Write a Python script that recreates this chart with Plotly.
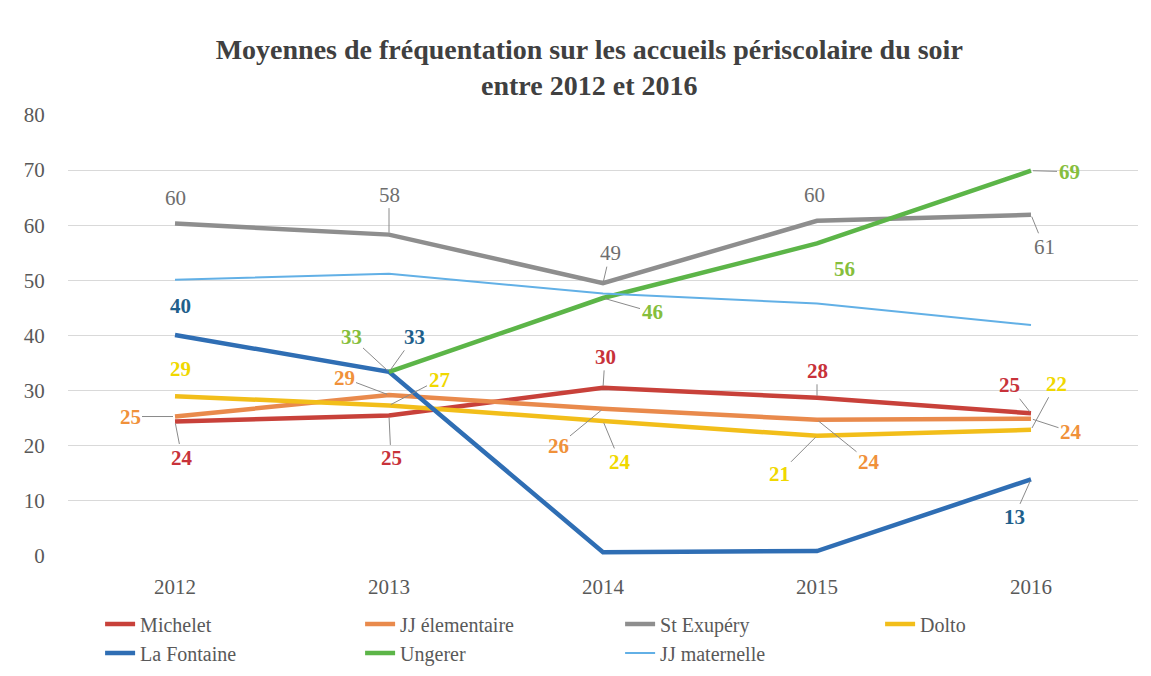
import plotly.graph_objects as go

years = ["2012", "2013", "2014", "2015", "2016"]

michelet = [24.4, 25.5, 30.5, 28.7, 25.9]
jj_elem = [25.3, 29.2, 26.7, 24.7, 24.9]
st_exupery = [60.3, 58.3, 49.5, 60.8, 61.9]
dolto = [29.0, 27.3, 24.5, 21.8, 22.9]
la_fontaine = [40.1, 33.4, 0.7, 0.9, 13.9]
ungerer = [None, 33.4, 46.8, 56.7, 69.9]
jj_mat = [50.1, 51.2, 47.6, 45.8, 41.9]

michelet_lbl = ["24", "25", "30", "28", "25"]
jj_elem_lbl = ["25", "29", "26", "24", "24"]
st_exupery_lbl = ["60", "58", "49", "60", "61"]
dolto_lbl = ["29", "27", "24", "21", "22"]
la_fontaine_lbl = ["40", "33", None, None, "13"]
ungerer_lbl = [None, "33", "46", "56", "69"]

# label offsets (pixels) and leader-line flags
michelet_off = [(7, 36, 1), (2, 43, 1), (2, -31, 1), (0, -27, 1), (-22, -28, 1)]
jj_elem_off = [(-45, 0, 1), (-45, -17, 1), (-45, 37, 1), (52, 42, 1), (40, 13, 1)]
st_exupery_off = [(0, -26, 0), (0, -40, 1), (7, -30, 1), (-3, -26, 0), (13, 32, 1)]
dolto_off = [(5, -27, 0), (50, -26, 1), (17, 41, 1), (-38, 38, 1), (25, -46, 1)]
la_fontaine_off = [(5, -29, 0), (25, -35, 1), None, None, (-17, 38, 1)]
ungerer_off = [None, (-38, -35, 1), (49, 14, 1), (27, 26, 0), (38, 1, 1)]

SERIF = "Liberation Serif, Times New Roman, serif"

series = [
    ("Michelet", michelet, "#C8413A", 4.5, michelet_lbl, michelet_off, "#C8323A", True),
    ("JJ élementaire", jj_elem, "#E98A4C", 4.5, jj_elem_lbl, jj_elem_off, "#F0913A", True),
    ("St Exupéry", st_exupery, "#8E8E8E", 4.5, st_exupery_lbl, st_exupery_off, "#6E6E6E", False),
    ("Dolto", dolto, "#F2BE1A", 4.5, dolto_lbl, dolto_off, "#F0D800", True),
    ("La Fontaine", la_fontaine, "#2F6EB4", 4.5, la_fontaine_lbl, la_fontaine_off, "#1F5F8B", True),
    ("Ungerer", ungerer, "#5CB548", 4.5, ungerer_lbl, ungerer_off, "#86BE3C", True),
    ("JJ maternelle", jj_mat, "#62B0E6", 2, None, None, None, False),
]

fig = go.Figure()
for name, vals, color, width, lbls, offs, lcolor, bold in series:
    fig.add_trace(go.Scatter(
        x=years, y=vals, mode="lines", name=name,
        line=dict(color=color, width=width),
        hoverinfo="skip",
    ))

for name, vals, color, width, lbls, offs, lcolor, bold in series:
    if lbls is None:
        continue
    for i, (v, t, o) in enumerate(zip(vals, lbls, offs)):
        if t is None or v is None:
            continue
        ax, ay, leader = o
        txt = f"<b>{t}</b>" if bold else t
        fig.add_annotation(
            x=i, y=v, xref="x", yref="y", text=txt,
            showarrow=True, ax=ax, ay=ay, arrowhead=0, arrowwidth=1,
            arrowcolor="#8A8A8A" if leader else "rgba(255,255,255,0)",
            standoff=2,
            font=dict(family=SERIF, size=21, color=lcolor),
        )

fig.update_layout(
    width=1151, height=676,
    paper_bgcolor="white", plot_bgcolor="white",
    margin=dict(l=60, r=21, t=107, b=126),
    title=dict(
        text="<b>Moyennes de fréquentation sur les accueils périscolaire du soir<br>entre 2012 et 2016</b>",
        x=0.505, xanchor="center", y=0.925, yanchor="top",
        font=dict(family=SERIF, size=28, color="#404040"),
    ),
    font=dict(family=SERIF, size=20, color="#595959"),
    legend=dict(
        orientation="h", x=0.03, xanchor="left", y=-0.11, yanchor="top",
        font=dict(family=SERIF, size=20, color="#595959"),
        entrywidth=215, entrywidthmode="pixels",
        traceorder="normal",
    ),
    showlegend=True,
)
fig.update_xaxes(
    type="category", range=[-0.5, 4.5], showgrid=False, zeroline=False,
    showline=False, ticks="outside", ticklen=12, tickcolor="rgba(0,0,0,0)",
    tickfont=dict(family=SERIF, size=21, color="#595959"),
)
fig.update_yaxes(
    range=[0, 80], dtick=10, showgrid=True, gridcolor="#D9D9D9", gridwidth=1,
    zeroline=False, showline=False, ticks="outside", ticklen=18, tickcolor="rgba(0,0,0,0)",
    tickfont=dict(family=SERIF, size=21, color="#595959"),
)

fig.write_html("out.html")
